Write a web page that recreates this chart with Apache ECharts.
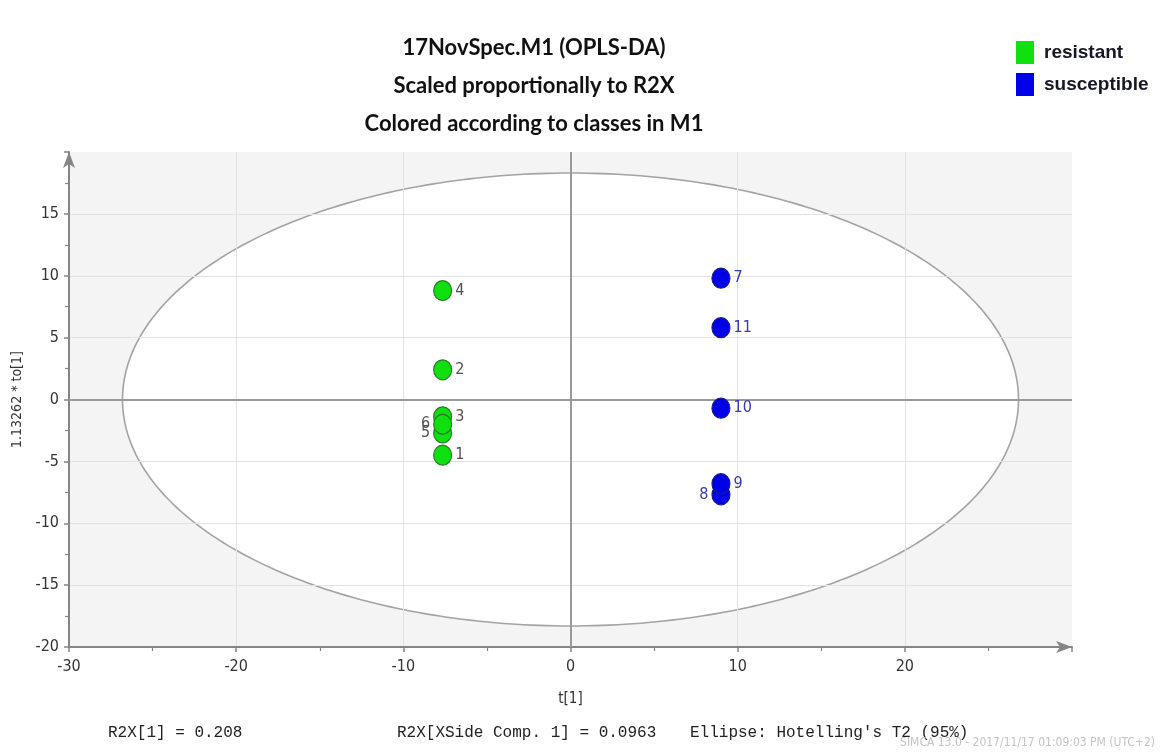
<!DOCTYPE html>
<html>
<head>
<meta charset="utf-8">
<script src="https://cdn.jsdelivr.net/npm/echarts@6/dist/echarts.min.js"></script>
<style>
  html, body { margin: 0; padding: 0; background: #ffffff; }
  #chart { width: 1163px; height: 755px; }
</style>
</head>
<body>
<div id="chart"></div>
<script>
// OPLS-DA score plot: predictive component t[1] vs scaled orthogonal component
const resistantIds = ['1', '2', '3', '4', '5', '6'];
const resistantT1 = [-7.65, -7.65, -7.65, -7.65, -7.65, -7.65];
const resistantTo1 = [-4.5, 2.4, -1.4, 8.8, -2.7, -2.0];

const susceptibleIds = ['7', '8', '9', '10', '11'];
const susceptibleT1 = [9.0, 9.0, 9.0, 9.0, 9.0];
const susceptibleTo1 = [9.8, -7.7, -6.8, -0.7, 5.8];

// Hotelling's T2 (95%) ellipse semi-axes in score units
const ellipseT1 = 26.8;
const ellipseTo1 = 18.3;

const xTicks = [-30, -20, -10, 0, 10, 20];
const yTicks = [-20, -15, -10, -5, 0, 5, 10, 15];

const titleLines = [
  '17NovSpec.M1 (OPLS-DA)',
  'Scaled proportionally to R2X',
  'Colored according to classes in M1'
];
const footerR2X = 'R2X[1] = 0.208';
const footerXSide = 'R2X[XSide Comp. 1] = 0.0963';
const footerEllipse = "Ellipse: Hotelling's T2 (95%)";
const footerStamp = 'SIMCA 13.0 - 2017/11/17 01:09:03 PM (UTC+2)';

// labels drawn on the left side of their marker
const leftLabelled = ['5', '6', '8'];

function buildPoints(ids, xs, ys, labelColor) {
  return ids.map((id, i) => {
    const left = leftLabelled.indexOf(id) >= 0;
    return {
      name: id,
      value: [xs[i], ys[i]],
      label: {
        position: left ? 'left' : 'right',
        color: labelColor
      }
    };
  });
}

const tickFont = "'Liberation Sans Narrow', 'DejaVu Sans Condensed', 'Liberation Sans', sans-serif";

const chart = echarts.init(document.getElementById('chart'), null, { renderer: 'canvas' });

chart.setOption({
  animation: false,
  backgroundColor: '#ffffff',
  title: {
    text: titleLines.join('\n'),
    left: 529,
    top: 24,
    textAlign: 'center',
    textStyle: {
      fontFamily: 'Lato, sans-serif',
      fontWeight: 'bold',
      fontSize: 22,
      lineHeight: 38,
      color: '#111111'
    }
  },
  legend: {
    orient: 'vertical',
    left: 1011,
    top: 36,
    icon: 'rect',
    itemWidth: 18,
    itemHeight: 23,
    itemGap: 9,
    itemStyle: { borderWidth: 0, opacity: 1 },
    data: ['resistant', 'susceptible'],
    textStyle: {
      fontFamily: "'Liberation Sans', Arial, sans-serif",
      fontWeight: 'bold',
      fontSize: 19,
      color: '#161626',
      padding: [0, 0, 0, 5]
    }
  },
  grid: {
    left: 69,
    right: 91,
    top: 152,
    bottom: 108,
    outerBoundsMode: 'none',
    containLabel: false,
    show: true,
    z: -3,
    backgroundColor: '#f4f4f4',
    borderWidth: 0
  },
  xAxis: {
    type: 'value',
    min: xTicks[0],
    max: 30,
    interval: 10,
    name: 't[1]',
    nameLocation: 'middle',
    nameGap: 45,
    nameTextStyle: { fontFamily: tickFont, fontSize: 15, color: '#333333' },
    axisLine: {
      onZero: false,
      symbol: ['none', 'arrow'],
      symbolSize: [9, 16],
      lineStyle: { color: '#858585', width: 2 }
    },
    axisTick: { show: true, length: 5, lineStyle: { color: '#858585', width: 1.5 } },
    minorTick: { show: true, splitNumber: 2, length: 4, lineStyle: { color: '#858585', width: 1.2 } },
    axisLabel: {
      showMaxLabel: false,
      margin: 12,
      fontFamily: tickFont,
      fontSize: 16,
      color: '#333333',
      formatter: v => (xTicks.indexOf(v) >= 0 ? String(v) : '')
    },
    splitLine: { show: true, showMaxLine: false, lineStyle: { color: '#e2e2e2', width: 1 } }
  },
  yAxis: {
    type: 'value',
    min: yTicks[0],
    max: 20,
    interval: 5,
    name: '1.13262 * to[1]',
    nameLocation: 'middle',
    nameRotate: 90,
    nameGap: 43,
    nameTextStyle: { fontFamily: tickFont, fontSize: 14, color: '#333333' },
    axisLine: {
      onZero: false,
      symbol: ['none', 'arrow'],
      symbolSize: [9, 16],
      lineStyle: { color: '#858585', width: 2 }
    },
    axisTick: { show: true, length: 5, lineStyle: { color: '#858585', width: 1.5 } },
    minorTick: { show: true, splitNumber: 2, length: 4, lineStyle: { color: '#858585', width: 1.2 } },
    axisLabel: {
      showMaxLabel: false,
      margin: 10,
      fontFamily: tickFont,
      fontSize: 16,
      color: '#333333',
      formatter: v => (yTicks.indexOf(v) >= 0 ? String(v) : '')
    },
    splitLine: { show: true, showMaxLine: false, lineStyle: { color: '#e2e2e2', width: 1 } }
  },
  series: [
    {
      // confidence ellipse, drawn beneath the grid lines
      type: 'custom',
      name: 'ellipse',
      z: -2,
      silent: true,
      data: [[0, 0]],
      renderItem: function (params, api) {
        const cx = api.value(0);
        const cy = api.value(1);
        const pts = [];
        for (let k = 0; k < 360; k++) {
          const a = k * Math.PI / 180;
          pts.push(api.coord([cx + ellipseT1 * Math.cos(a), cy + ellipseTo1 * Math.sin(a)]));
        }
        return {
          type: 'polygon',
          shape: { points: pts },
          style: { fill: '#ffffff', stroke: '#a3a3a3', lineWidth: 1.6 }
        };
      },
      markLine: {
        silent: true,
        z: 1,
        symbol: ['none', 'none'],
        label: { show: false },
        lineStyle: { color: '#9a9a9a', width: 2, type: 'solid' },
        data: [{ xAxis: 0 }, { yAxis: 0 }]
      }
    },
    {
      type: 'scatter',
      name: 'resistant',
      z: 3,
      symbol: 'circle',
      symbolSize: [18, 20],
      itemStyle: { color: '#10e010', borderColor: '#2a7a2a', borderWidth: 1.2, opacity: 1 },
      label: {
        show: true,
        formatter: '{b}',
        distance: 3,
        fontFamily: tickFont,
        fontSize: 16
      },
      data: buildPoints(resistantIds, resistantT1, resistantTo1, '#505050')
    },
    {
      type: 'scatter',
      name: 'susceptible',
      z: 3,
      symbol: 'circle',
      symbolSize: [18, 20],
      itemStyle: { color: '#0000e8', borderColor: '#1a1a80', borderWidth: 1.2, opacity: 1 },
      label: {
        show: true,
        formatter: '{b}',
        distance: 3,
        fontFamily: tickFont,
        fontSize: 16
      },
      data: buildPoints(susceptibleIds, susceptibleT1, susceptibleTo1, '#3a3ab0')
    }
  ],
  graphic: [
    {
      type: 'text',
      left: 108,
      top: 725,
      style: { text: footerR2X, font: "16px 'Liberation Mono', 'DejaVu Sans Mono', monospace", fill: '#222222' }
    },
    {
      type: 'text',
      left: 397,
      top: 725,
      style: { text: footerXSide, font: "16px 'Liberation Mono', 'DejaVu Sans Mono', monospace", fill: '#222222' }
    },
    {
      type: 'text',
      left: 690,
      top: 725,
      style: { text: footerEllipse, font: "16px 'Liberation Mono', 'DejaVu Sans Mono', monospace", fill: '#222222' }
    },
    {
      type: 'text',
      right: 8,
      top: 737,
      style: { text: footerStamp, font: "12px 'Liberation Sans Narrow', 'DejaVu Sans Condensed', sans-serif", fill: '#c4c4c4' }
    }
  ]
});
</script>
</body>
</html>
